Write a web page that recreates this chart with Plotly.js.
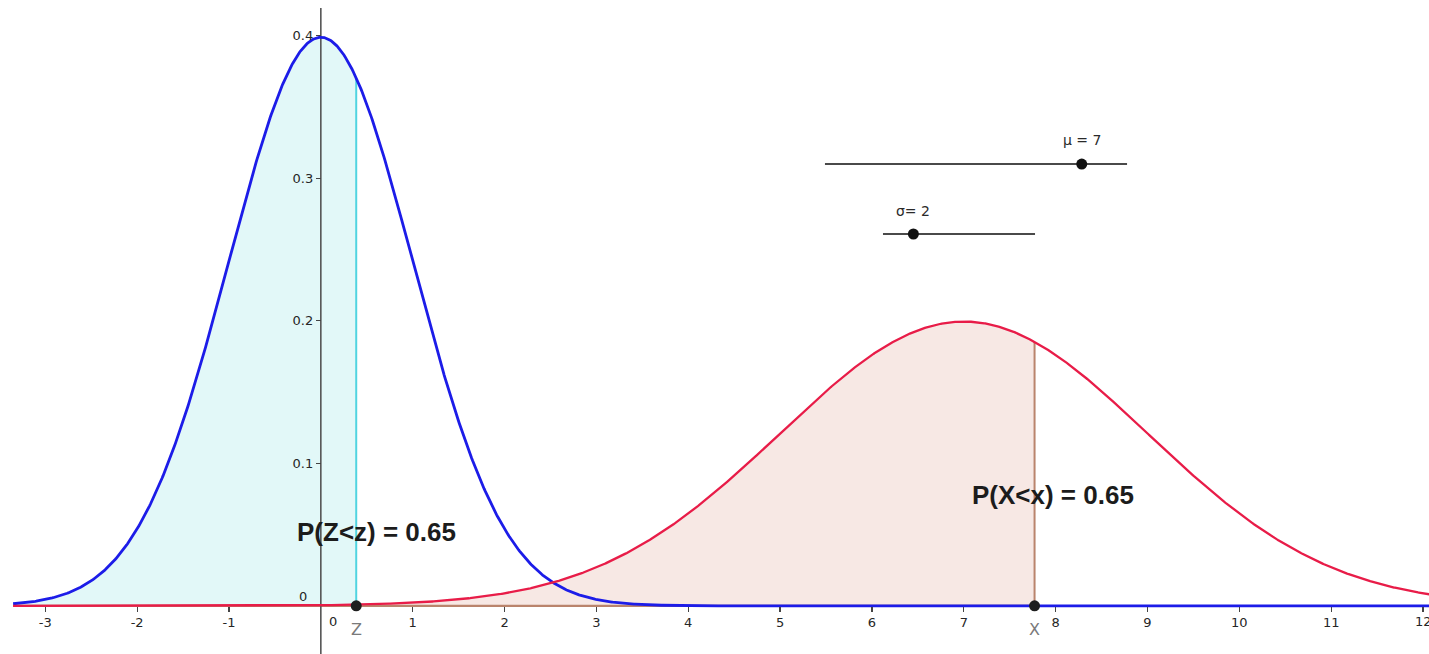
<!DOCTYPE html>
<html>
<head>
<meta charset="utf-8">
<script src="https://cdn.plot.ly/plotly-3.0.1.min.js"></script>
<style>
  html, body { margin: 0; padding: 0; background: #ffffff; }
  #chart { width: 1429px; height: 654px; }
</style>
</head>
<body>
<div id="chart"></div>
<script>
// Parameters of the two distributions and the shared left-tail probability
const muValue = 7;
const sigmaValue = 2;
const stdMu = 0;
const stdSigma = 1;
const leftProb = 0.65;

// Slider ranges (μ and σ)
const muRange = [-10, 10];
const sigmaRange = [0, 10];

// Axis ticks
const xTickVals = [-3, -2, -1, 1, 2, 3, 4, 5, 6, 7, 8, 9, 10, 11];
const xTickText = ['-3', '-2', '-1', '1', '2', '3', '4', '5', '6', '7', '8', '9', '10', '11'];
const xEdgeTick = 12;
const yTickVals = [0.1, 0.2, 0.3, 0.4];

// Viewing window
const xWindow = [-3.493, 12.065];
const yWindow = [-0.0338, 0.4251];
const curveDomain = [-3.35, 12.1];

// --- normal distribution helpers ---
function erf(v) {
  const s = v < 0 ? -1 : 1;
  const a = Math.abs(v);
  const t = 1 / (1 + 0.3275911 * a);
  const y = 1 - (((((1.061405429 * t - 1.453152027) * t) + 1.421413741) * t - 0.284496736) * t + 0.254829592) * t * Math.exp(-a * a);
  return s * y;
}
function pdf(v, m, s) {
  const u = (v - m) / s;
  return Math.exp(-0.5 * u * u) / (s * Math.sqrt(2 * Math.PI));
}
function cdf(v, m, s) {
  return 0.5 * (1 + erf((v - m) / (s * Math.SQRT2)));
}
function quantile(p, m, s) {
  let lo = m - 10 * s, hi = m + 10 * s;
  for (let i = 0; i < 80; i++) {
    const mid = (lo + hi) / 2;
    if (cdf(mid, m, s) < p) lo = mid; else hi = mid;
  }
  return (lo + hi) / 2;
}

const zq = quantile(leftProb, stdMu, stdSigma);
const xq = quantile(leftProb, muValue, sigmaValue);

function curve(m, s, a, b) {
  const xs = [], ys = [];
  const n = 1600;
  for (let i = 0; i <= n; i++) {
    const v = a + (b - a) * i / n;
    xs.push(v);
    ys.push(pdf(v, m, s));
  }
  return { xs, ys };
}

const stdCurve = curve(stdMu, stdSigma, curveDomain[0], curveDomain[1]);
const genCurve = curve(muValue, sigmaValue, curveDomain[0], curveDomain[1]);
const stdTail = curve(stdMu, stdSigma, curveDomain[0], zq);
const genTail = curve(muValue, sigmaValue, curveDomain[0], xq);

const BLUE = 'rgb(28,28,232)';
const RED = 'rgb(232,28,72)';
const CYAN_LINE = 'rgb(80,212,224)';
const BROWN = 'rgb(186,132,108)';
const CYAN_FILL = 'rgb(226,248,248)';
const PINK_FILL = 'rgb(247,232,228)';
const TICK_FONT = { family: 'DejaVu Sans', size: 13, color: '#262626' };

const traces = [
  // shaded area P(X < x)
  { x: genTail.xs, y: genTail.ys, type: 'scatter', mode: 'lines', fill: 'tozeroy',
    fillcolor: PINK_FILL, line: { width: 0 }, hoverinfo: 'skip' },
  // shaded area P(Z < z)
  { x: stdTail.xs, y: stdTail.ys, type: 'scatter', mode: 'lines', fill: 'tozeroy',
    fillcolor: CYAN_FILL, line: { width: 0 }, hoverinfo: 'skip' },
  // outline of the X region: base and right edge
  { x: [curveDomain[0], xq], y: [0, 0], type: 'scatter', mode: 'lines',
    line: { color: BROWN, width: 2.2 }, hoverinfo: 'skip' },
  { x: [xq, xq], y: [0, pdf(xq, muValue, sigmaValue)], type: 'scatter', mode: 'lines',
    line: { color: BROWN, width: 2 }, hoverinfo: 'skip' },
  // right edge of the Z region
  { x: [zq, zq], y: [0, pdf(zq, stdMu, stdSigma)], type: 'scatter', mode: 'lines',
    line: { color: CYAN_LINE, width: 2 }, hoverinfo: 'skip' },
  // vertical axis line
  { x: [0, 0], y: [yWindow[0], 0.4195], type: 'scatter', mode: 'lines',
    line: { color: '#555555', width: 1.6 }, hoverinfo: 'skip' },
  // density curves
  { x: stdCurve.xs, y: stdCurve.ys, type: 'scatter', mode: 'lines',
    line: { color: BLUE, width: 2.8 }, hoverinfo: 'skip' },
  { x: genCurve.xs, y: genCurve.ys, type: 'scatter', mode: 'lines',
    line: { color: RED, width: 2.3 }, hoverinfo: 'skip' },
  // quantile points on the axis
  { x: [zq, xq], y: [0, 0], type: 'scatter', mode: 'markers',
    marker: { color: '#1e1e1e', size: 11 }, hoverinfo: 'skip' }
];

// Sliders (screen-fixed, drawn on an overlay axis spanning the page)
const sliders = [
  { label: 'μ = ' + muValue, value: muValue, range: muRange, x0: 0.5773, x1: 0.7887, y: 0.7492, shift: 14 },
  { label: 'σ= ' + sigmaValue, value: sigmaValue, range: sigmaRange, x0: 0.6179, x1: 0.7243, y: 0.6422, shift: 13 }
];
const annotations = [];
sliders.forEach(s => {
  const frac = (s.value - s.range[0]) / (s.range[1] - s.range[0]);
  const px = s.x0 + frac * (s.x1 - s.x0);
  traces.push({ x: [s.x0, s.x1], y: [s.y, s.y], xaxis: 'x2', yaxis: 'y2', type: 'scatter',
    mode: 'lines', line: { color: '#4a4a4a', width: 1.8 }, hoverinfo: 'skip' });
  traces.push({ x: [px], y: [s.y], xaxis: 'x2', yaxis: 'y2', type: 'scatter',
    mode: 'markers', marker: { color: '#111111', size: 11 }, hoverinfo: 'skip' });
  annotations.push({ x: px, y: s.y, xref: 'x2', yref: 'y2', text: s.label, showarrow: false,
    xanchor: 'center', yanchor: 'bottom', yshift: s.shift,
    font: { family: 'DejaVu Sans', size: 14, color: '#2a2a2a' } });
});

const probText = leftProb.toFixed(2);
annotations.push(
  { x: -0.281, y: 0.0518, xref: 'x', yref: 'y', text: '<b>P(Z<z) = ' + probText + '</b>', showarrow: false,
    xanchor: 'left', yanchor: 'middle', font: { family: 'Liberation Sans, Arial', size: 26, color: '#1c1c1c' } },
  { x: 7.068, y: 0.0778, xref: 'x', yref: 'y', text: '<b>P(X<x) = ' + probText + '</b>', showarrow: false,
    xanchor: 'left', yanchor: 'middle', font: { family: 'Liberation Sans, Arial', size: 26, color: '#1c1c1c' } },
  // point names under the axis
  { x: zq, y: 0, xref: 'x', yref: 'y', text: 'Z', showarrow: false, xanchor: 'center', yanchor: 'top',
    yshift: -12, font: { family: 'DejaVu Sans', size: 16, color: '#7a7a7a' } },
  { x: xq, y: 0, xref: 'x', yref: 'y', text: 'X', showarrow: false, xanchor: 'center', yanchor: 'top',
    yshift: -12, font: { family: 'DejaVu Sans', size: 16, color: '#7a7a7a' } },
  // origin labels
  { x: 0, y: 0, xref: 'x', yref: 'y', text: '0', showarrow: false, xanchor: 'center', yanchor: 'middle',
    xshift: 12, yshift: -16, font: TICK_FONT },
  { x: 0, y: 0, xref: 'x', yref: 'y', text: '0', showarrow: false, xanchor: 'center', yanchor: 'middle',
    xshift: -18, yshift: 9, font: TICK_FONT },
  // last tick label, sitting at the right edge of the window
  { x: xEdgeTick, y: 0, xref: 'x', yref: 'y', text: String(xEdgeTick), showarrow: false,
    xanchor: 'center', yanchor: 'middle', yshift: -16, font: TICK_FONT }
);

const axisY0 = (0 - yWindow[0]) / (yWindow[1] - yWindow[0]);
const axisX0 = (0 - xWindow[0]) / (xWindow[1] - xWindow[0]);

const layout = {
  width: 1429, height: 654,
  margin: { l: 0, r: 0, t: 0, b: 0, pad: 0 },
  paper_bgcolor: '#ffffff', plot_bgcolor: '#ffffff',
  showlegend: false,
  xaxis: {
    range: xWindow, anchor: 'free', position: axisY0, showgrid: false, zeroline: false,
    showline: false, tickmode: 'array', tickvals: xTickVals.concat([xEdgeTick]),
    ticktext: xTickText.concat(['']), ticks: 'outside', ticklen: 5,
    tickwidth: 1.2, tickcolor: '#444444', automargin: false, tickfont: TICK_FONT
  },
  yaxis: {
    range: yWindow, anchor: 'free', position: axisX0, showgrid: false, zeroline: false,
    showline: false, tickmode: 'array', tickvals: yTickVals, ticks: 'outside', ticklen: 5,
    tickwidth: 1.2, tickcolor: '#444444', automargin: false, tickfont: TICK_FONT
  },
  xaxis2: { overlaying: 'x', range: [0, 1], visible: false, anchor: 'y2' },
  yaxis2: { overlaying: 'y', range: [0, 1], visible: false, anchor: 'x2' },
  annotations: annotations
};

Plotly.newPlot('chart', traces, layout, { displayModeBar: false, staticPlot: true });
</script>
</body>
</html>
